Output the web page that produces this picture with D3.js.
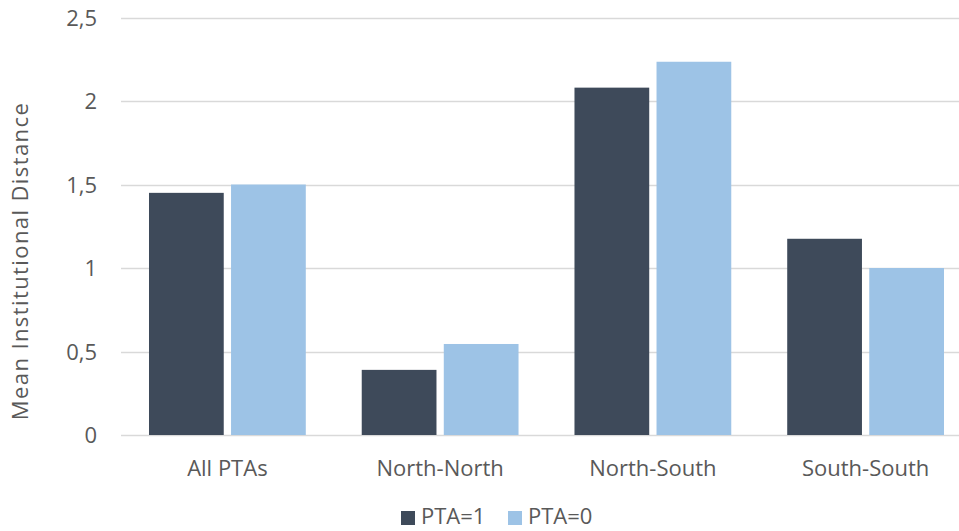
<!DOCTYPE html>
<html>
<head>
<meta charset="utf-8">
<script src="https://cdn.jsdelivr.net/npm/d3@7"></script>
<style>
  html, body { margin: 0; padding: 0; background: #fff; overflow: hidden; }
  svg { display: block; }
  text { font-family: "Open Sans", "Noto Sans", sans-serif; fill: #595959; }
</style>
</head>
<body>
<svg id="chart" width="959" height="531"></svg>
<script>
// Mean institutional distance by trade-pair group
const categories = ["All PTAs", "North-North", "North-South", "South-South"];
const seriesNames = ["PTA=1", "PTA=0"];
const pta1Values = [1.45, 0.39, 2.08, 1.175];
const pta0Values = [1.50, 0.545, 2.235, 1.0];
const yTicks = [0, 0.5, 1, 1.5, 2, 2.5];
const seriesColors = ["#3E4A5A", "#9DC3E6"];

const svg = d3.select("#chart");
const plot = { left: 121, right: 972, top: 17.5, bottom: 435 };
const fontSize = 22;

const x = d3.scaleBand()
  .domain(categories)
  .range([plot.left, plot.right])
  .paddingInner(0.263)
  .paddingOuter(0.1316);

const xInner = d3.scaleBand()
  .domain(seriesNames)
  .range([0, x.bandwidth()])
  .paddingInner(0.089);

const y = d3.scaleLinear().domain([0, 2.5]).range([plot.bottom, plot.top]);

const fmt = d => String(d).replace(".", ",");

// horizontal gridlines
svg.append("g")
  .selectAll("line")
  .data(yTicks)
  .join("line")
  .attr("x1", plot.left)
  .attr("x2", plot.right)
  .attr("y1", d => Math.round(y(d)) + 0.5)
  .attr("y2", d => Math.round(y(d)) + 0.5)
  .attr("stroke", "#d9d9d9")
  .attr("stroke-width", 1.3);

// y axis labels
const yAxis = d3.axisLeft(y).tickValues(yTicks).tickFormat(fmt).tickSize(0).tickPadding(0);
const gy = svg.append("g").attr("transform", `translate(97,0)`).call(yAxis);
gy.select(".domain").remove();
gy.selectAll("text")
  .attr("font-size", fontSize)
  .attr("font-family", "'Open Sans', sans-serif")
  .attr("fill", "#595959")
  .attr("dy", "0.35em");

// bars
const rows = categories.map((c, i) => ({ cat: c, values: [pta1Values[i], pta0Values[i]] }));
const groups = svg.append("g")
  .selectAll("g")
  .data(rows)
  .join("g")
  .attr("transform", d => `translate(${x(d.cat)},0)`);

groups.selectAll("rect")
  .data(d => d.values.map((v, j) => ({ name: seriesNames[j], value: v, j })))
  .join("rect")
  .attr("x", d => xInner(d.name))
  .attr("width", xInner.bandwidth())
  .attr("y", d => y(d.value))
  .attr("height", d => y(0) - y(d.value))
  .attr("fill", d => seriesColors[d.j]);

// x axis labels
const xAxis = d3.axisBottom(x).tickSize(0).tickPadding(0);
const gx = svg.append("g").attr("transform", `translate(0,468)`).call(xAxis);
gx.select(".domain").remove();
gx.selectAll("text")
  .attr("font-size", fontSize)
  .attr("font-family", "'Open Sans', sans-serif")
  .attr("fill", "#595959")
  .attr("dy", "0.35em")
  .attr("y", 0);

// y axis title
svg.append("text")
  .attr("transform", `translate(20,261) rotate(-90)`)
  .attr("text-anchor", "middle")
  .attr("dy", "0.35em")
  .attr("font-size", fontSize)
  .attr("letter-spacing", 1.4)
  .text("Mean Institutional Distance");

// legend
const legendX = [401, 508];
const legend = svg.append("g")
  .selectAll("g")
  .data(seriesNames)
  .join("g")
  .attr("transform", (d, i) => `translate(${legendX[i]},511)`);
legend.append("rect")
  .attr("width", 14)
  .attr("height", 14)
  .attr("fill", (d, i) => seriesColors[i]);
legend.append("text")
  .attr("x", 20)
  .attr("y", 13)
  .attr("font-size", fontSize)
  .text(d => d);
</script>
</body>
</html>
